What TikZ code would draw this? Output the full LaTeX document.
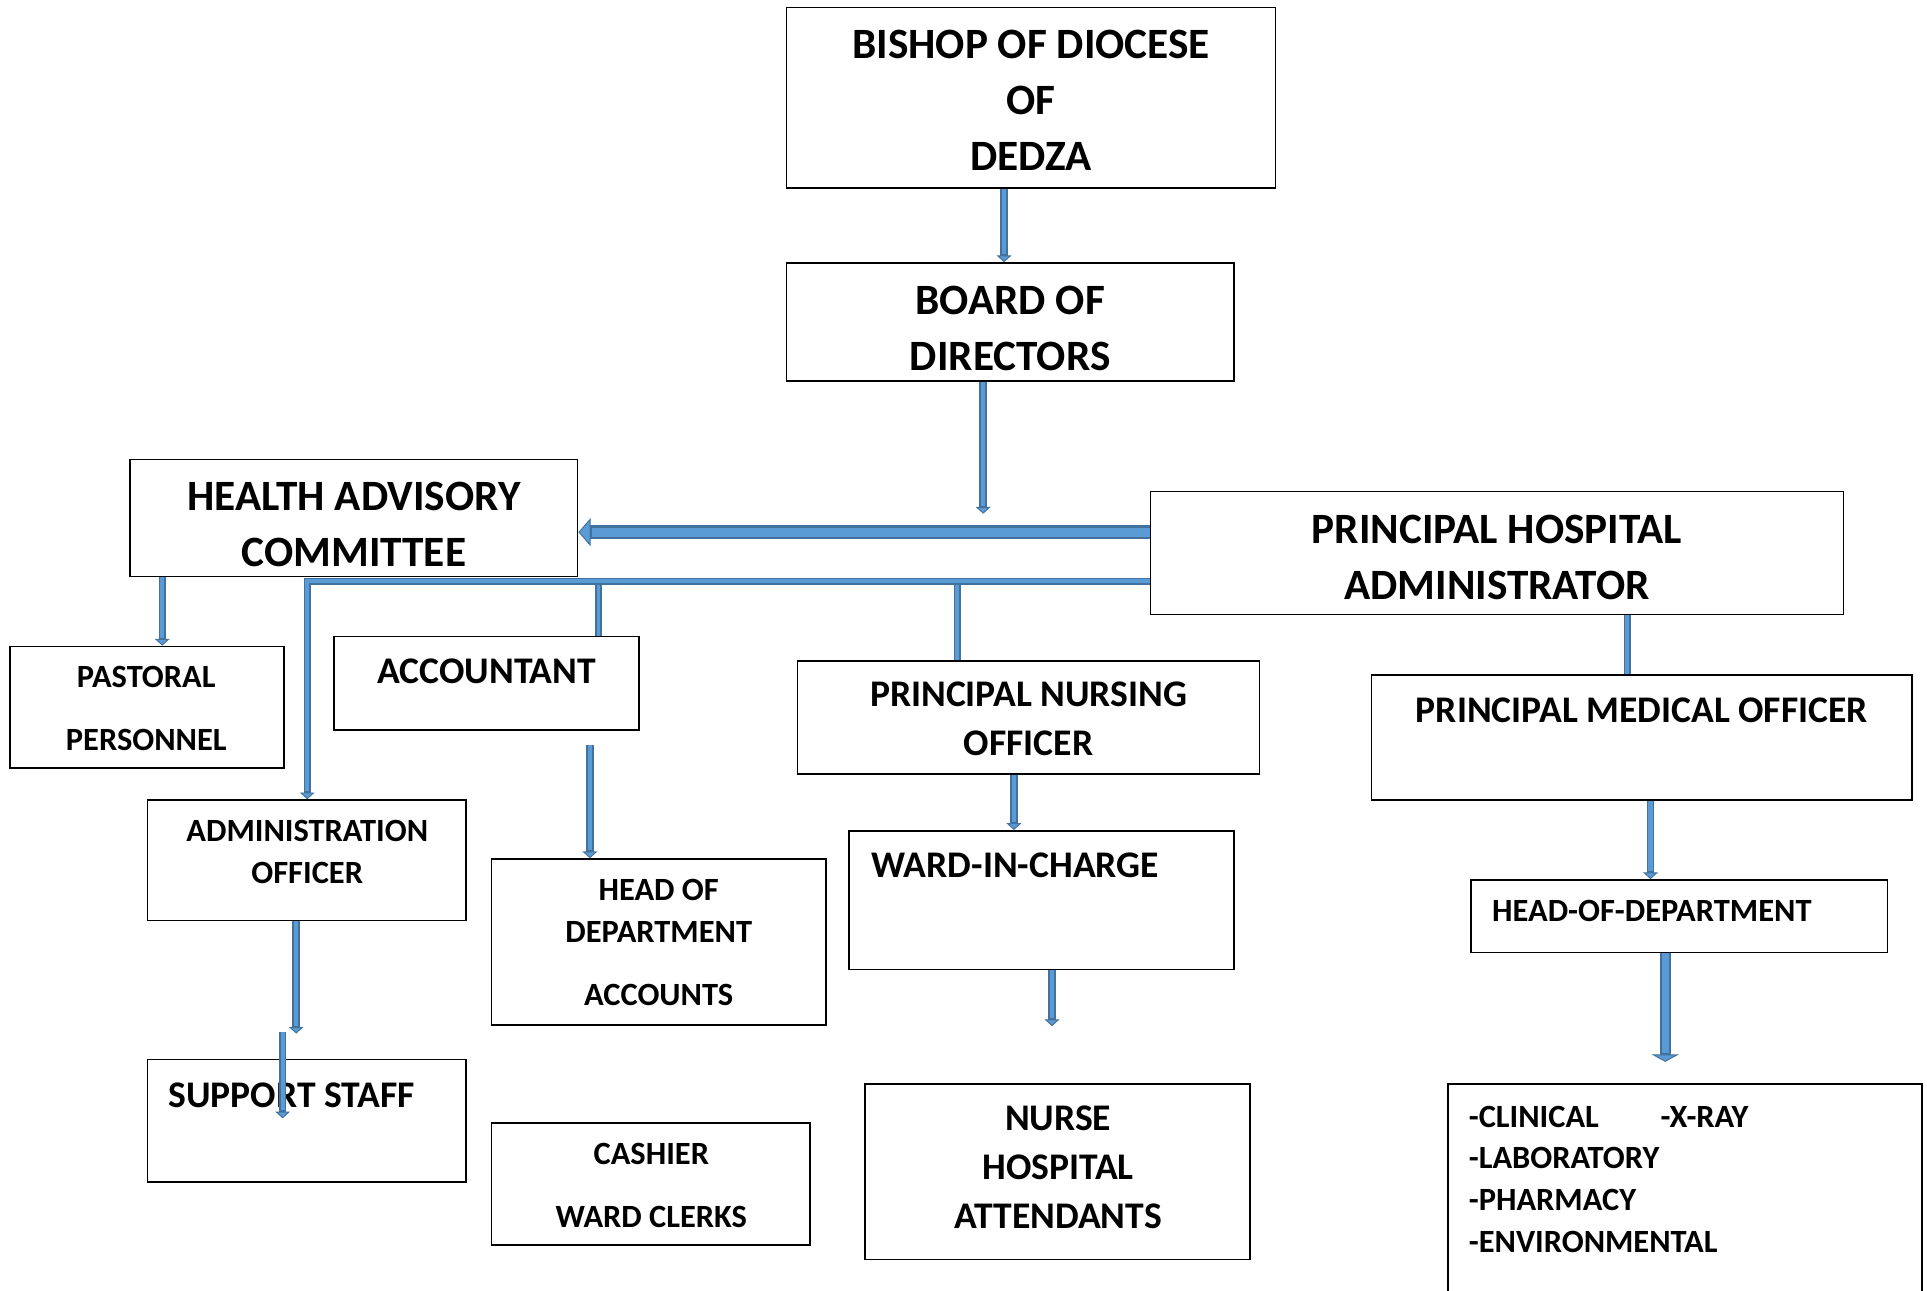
\documentclass[tikz,border=0pt]{standalone}
\usepackage{fontspec}
\setmainfont{Carlito}
\usetikzlibrary{arrows.meta,calc}
\definecolor{fillblue}{HTML}{5B9BD5}
\definecolor{edgeblue}{HTML}{41719C}
\newcommand\barrow[6]{%
  \draw[edgeblue, line width=#1pt, -{Triangle[length=#3pt, width=#4pt, line width=0.8pt, fill=fillblue]}] #5 -- #6;
  \draw[fillblue, line width=#2pt, shorten >=#3pt+1pt] #5 -- #6;}
\newcommand\bline[3]{%
  \draw[edgeblue, line width=#1pt] #3;
  \draw[fillblue, line width=#2pt] #3;}
\tikzset{
  box/.style={draw=black, line width=1.3pt, inner sep=0pt, fill=none},
  big/.style={inner sep=0pt, align=center, font=\fontsize{35.2}{45.5}\selectfont\bfseries},
  med/.style={inner sep=0pt, align=center, font=\fontsize{30.6}{40}\selectfont\bfseries},
  sml/.style={inner sep=0pt, align=center, font=\fontsize{26.4}{34}\selectfont\bfseries},
  smlw/.style={inner sep=0pt, align=center, font=\fontsize{26.4}{51}\selectfont\bfseries},
}
\begin{document}
\begin{tikzpicture}[x=1pt,y=-1pt]
\useasboundingbox (0,0) rectangle (1568,1050);
\fill[white] (0,0) rectangle (1568,1050);
% boxes
\node[box, minimum width=398pt, minimum height=147pt] (bishop) at (839,79.5) {};
\node[box, minimum width=364pt, minimum height=96pt] (board) at (822,262) {};
\node[box, minimum width=364pt, minimum height=95pt] (hac) at (288,421.5) {};
\node[box, minimum width=564pt, minimum height=100pt] (pha) at (1218,450) {};
\node[box, minimum width=223pt, minimum height=99pt] (pastoral) at (119.5,575.5) {};
\node[box, minimum width=248pt, minimum height=76pt] (acct) at (396,556) {};
\node[box, minimum width=376pt, minimum height=92pt] (pno) at (837,584) {};
\node[box, minimum width=440pt, minimum height=102pt] (pmo) at (1336,600) {};
\node[box, minimum width=259pt, minimum height=98pt] (admin) at (249.5,700) {};
\node[box, minimum width=272pt, minimum height=135pt] (hoda) at (536,766.5) {};
\node[box, minimum width=313pt, minimum height=113pt] (ward) at (847.5,732.5) {};
\node[box, minimum width=339pt, minimum height=59pt] (hod) at (1366.5,745.5) {};
\node[box, minimum width=259pt, minimum height=100pt] (support) at (249.5,912) {};
\node[box, minimum width=259pt, minimum height=99pt] (cashier) at (529.5,963.5) {};
\node[box, minimum width=313pt, minimum height=143pt] (nurse) at (860.5,953.5) {};
\node[box, minimum width=386pt, minimum height=183pt] (list) at (1371,973.5) {};
% texts
\node[big] (tbishop) at (839,81.5) {BISHOP OF DIOCESE\\OF\\DEDZA};
\node[big] (tboard) at (822,267.5) {BOARD OF\\DIRECTORS};
\node[big] (thac) at (288,427) {HEALTH ADVISORY\\COMMITTEE};
\node[big] (tpha) at (1218,453.5) {PRINCIPAL HOSPITAL\\ADMINISTRATOR};
\node[smlw] (tpastoral) at (119,576.5) {PASTORAL\\PERSONNEL};
\node[med] (tacct) at (396,546) {ACCOUNTANT};
\node[med] (tpno) at (837,585) {PRINCIPAL NURSING\\OFFICER};
\node[med] (tpmo) at (1336,578) {PRINCIPAL MEDICAL OFFICER};
\node[sml] (tadmin) at (250,693) {ADMINISTRATION\\OFFICER};
\node[sml] (thoda) at (536,767) {HEAD OF\\DEPARTMENT\\[17pt]ACCOUNTS};
\node[med, anchor=west] (tward) at (709,704) {WARD-IN-CHARGE};
\node[sml, anchor=west] (thod) at (1214,741) {HEAD-OF-DEPARTMENT};
\node[med, anchor=west] (tsupport) at (137,891) {SUPPORT STAFF};
\node[smlw] (tcashier) at (530,964.5) {CASHIER\\WARD CLERKS};
\node[med] (tnurse) at (861,950) {NURSE\\HOSPITAL\\ATTENDANTS};
\node[sml, align=left, anchor=north west] (tlist) at (1195,899.6) {\makebox[156pt][l]{-CLINICAL}-X-RAY\\-LABORATORY\\-PHARMACY\\-ENVIRONMENTAL};
% coordinates
\coordinate (bdtip) at (800,418);
\coordinate (busL) at (250,473);
\coordinate (tapA) at (487,473);
\coordinate (tapN) at (779,473);
\coordinate (acctgap) at (480,606);
\coordinate (adtip) at (241,841);
\coordinate (ovs) at (230,840);
\coordinate (ove) at (230,910);
\coordinate (wdtip) at (856,835);
\coordinate (hodtip) at (1355,864);
% connectors
\barrow{6}{3.4}{5.5}{12}{([xshift=-22pt]bishop.south)}{([xshift=-5pt]board.north)}
\barrow{6}{3.4}{5.5}{12}{([xshift=-22pt]board.south)}{(bdtip)}
\barrow{11}{7.5}{10}{23}{([yshift=17pt]pha.west)}{([yshift=-11.5pt]hac.east)}
\bline{5.6}{3.2}{(tapA) -- (tapA |- acct.north)}
\bline{5.6}{3.2}{(tapN) -- (tapN |- pno.north)}
\draw[edgeblue, line width=5.6pt, -{Triangle[length=5.5pt, width=12pt, line width=0.8pt, fill=fillblue]}] ([yshift=-23pt]pha.west) -- (busL) -- (busL |- admin.north);
\draw[fillblue, line width=3.2pt, shorten >=6.5pt] ([yshift=-23pt]pha.west) -- (busL) -- (busL |- admin.north);
\bline{5.6}{3.2}{([xshift=106pt]pha.south) -- ([xshift=-12pt]pmo.north)}
\barrow{6}{3.4}{5.5}{12}{([xshift=-156pt]hac.south)}{([xshift=12.5pt]pastoral.north)}
\barrow{6}{3.4}{5.5}{12}{(acctgap)}{([xshift=-56pt]hoda.north)}
\barrow{6}{3.4}{5.5}{12}{([xshift=-8.5pt]admin.south)}{(adtip)}
\barrow{6}{3.4}{5.5}{12}{(ovs)}{(ove)}
\barrow{6}{3.4}{5.5}{12}{([xshift=-12pt]pno.south)}{([xshift=-22.5pt]ward.north)}
\barrow{6}{3.4}{5.5}{12}{([xshift=8.5pt]ward.south)}{(wdtip)}
\barrow{6}{3.4}{5.5}{12}{([xshift=7pt]pmo.south)}{([xshift=-23.5pt]hod.north)}
\barrow{9}{6}{6}{22}{([xshift=-11.5pt]hod.south)}{(hodtip)}
\end{tikzpicture}
\end{document}
